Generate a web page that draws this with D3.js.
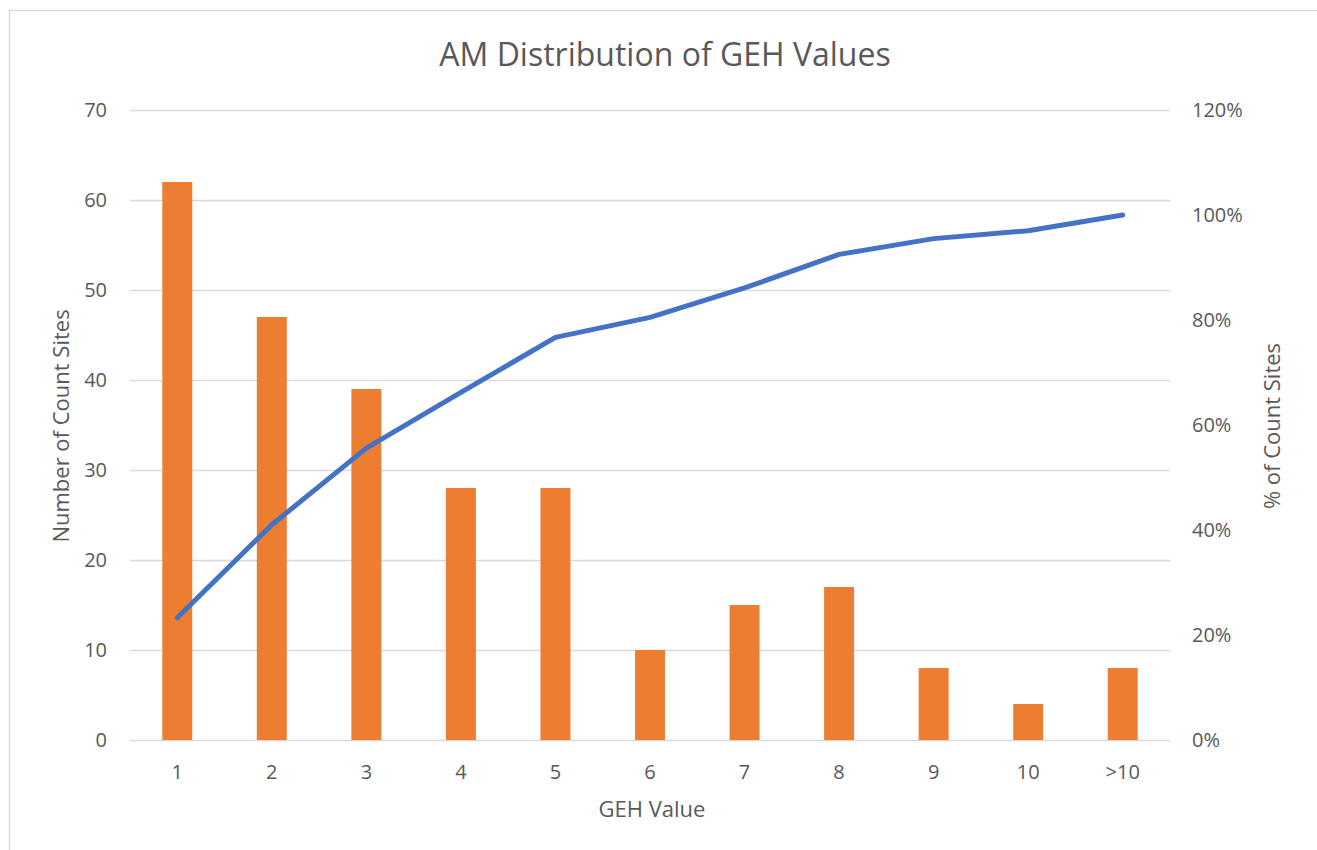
<!DOCTYPE html>
<html>
<head>
<meta charset="utf-8">
<script src="https://cdn.jsdelivr.net/npm/d3@7"></script>
<style>
  body { margin: 0; background: #fff; }
  text { font-family: "Open Sans", "Noto Sans", sans-serif; fill: #595959; }
  .grid line { stroke: #d9d9d9; stroke-width: 1.3; }
</style>
</head>
<body>
<div id="chart"></div>
<script>
var categories = ['1', '2', '3', '4', '5', '6', '7', '8', '9', '10', '>10'];
var siteCounts = [62, 47, 39, 28, 28, 10, 15, 17, 8, 4, 8];
var cumulativePct = [23.3, 41.0, 55.6, 66.2, 76.7, 80.5, 86.1, 92.5, 95.5, 97.0, 100];
var leftTicks = [0, 10, 20, 30, 40, 50, 60, 70];
var rightTicks = [0, 20, 40, 60, 80, 100, 120];

var W = 1317, H = 850;
var margin = { top: 110, right: 147, bottom: 110, left: 130 };
var width = W - margin.left - margin.right;
var height = H - margin.top - margin.bottom;

var svg = d3.select('#chart').append('svg')
	.attr('width', W)
	.attr('height', H);

// chart border (right and bottom edges fall off the picture)
svg.append('rect')
	.attr('x', 9.5).attr('y', 10.5)
	.attr('width', 1320).attr('height', 850)
	.attr('fill', 'none')
	.attr('stroke', '#d9d9d9')
	.attr('stroke-width', 1.3);

var g = svg.append('g')
	.attr('transform', 'translate(' + margin.left + ',' + margin.top + ')');

var x = d3.scaleBand()
	.domain(categories)
	.range([0, width])
	.paddingInner(0.683)
	.paddingOuter(0.3415);

var y = d3.scaleLinear().domain([0, 70]).range([height, 0]);
var y2 = d3.scaleLinear().domain([0, 120]).range([height, 0]);

// gridlines
g.append('g')
	.attr('class', 'grid')
	.call(d3.axisLeft(y).tickValues(leftTicks).tickSize(-width).tickFormat(''))
	.call(function(s) { s.select('.domain').remove(); });

// left axis labels
g.append('g')
	.selectAll('text')
	.data(leftTicks)
	.enter().append('text')
	.attr('x', -23)
	.attr('y', function(d) { return y(d); })
	.attr('dy', '0.35em')
	.attr('text-anchor', 'end')
	.style('font-size', '20px')
	.text(function(d) { return d; });

// right axis labels
g.append('g')
	.selectAll('text')
	.data(rightTicks)
	.enter().append('text')
	.attr('x', width + 22)
	.attr('y', function(d) { return y2(d); })
	.attr('dy', '0.35em')
	.attr('text-anchor', 'start')
	.style('font-size', '20px')
	.text(function(d) { return d + '%'; });

// bars
g.selectAll('.bar')
	.data(siteCounts)
	.enter().append('rect')
	.attr('class', 'bar')
	.attr('x', function(d, i) { return x(categories[i]); })
	.attr('width', x.bandwidth())
	.attr('y', function(d) { return y(d); })
	.attr('height', function(d) { return height - y(d); })
	.attr('fill', '#ED7D31');

// x axis labels
g.append('g')
	.selectAll('text')
	.data(categories)
	.enter().append('text')
	.attr('x', function(d) { return x(d) + x.bandwidth() / 2; })
	.attr('y', height + 32)
	.attr('dy', '0.35em')
	.attr('text-anchor', 'middle')
	.style('font-size', '20px')
	.text(function(d) { return d; });

// cumulative line
var line = d3.line()
	.x(function(d, i) { return x(categories[i]) + x.bandwidth() / 2; })
	.y(function(d) { return y2(d); });

g.append('path')
	.datum(cumulativePct)
	.attr('d', line)
	.attr('fill', 'none')
	.attr('stroke', '#4472C4')
	.attr('stroke-width', 5)
	.attr('stroke-linecap', 'round')
	.attr('stroke-linejoin', 'round');

// title & axis titles
svg.append('text')
	.attr('x', 665).attr('y', 55)
	.attr('dy', '0.35em')
	.attr('text-anchor', 'middle')
	.style('font-size', '32px')
	.text('AM Distribution of GEH Values');

svg.append('text')
	.attr('x', 652).attr('y', 809)
	.attr('dy', '0.35em')
	.attr('text-anchor', 'middle')
	.style('font-size', '22px')
	.text('GEH Value');

svg.append('text')
	.attr('transform', 'translate(61,426) rotate(-90)')
	.attr('dy', '0.35em')
	.attr('text-anchor', 'middle')
	.style('font-size', '22px')
	.text('Number of Count Sites');

svg.append('text')
	.attr('transform', 'translate(1272,426) rotate(-90)')
	.attr('dy', '0.35em')
	.attr('text-anchor', 'middle')
	.style('font-size', '22px')
	.text('% of Count Sites');
</script>
</body>
</html>
